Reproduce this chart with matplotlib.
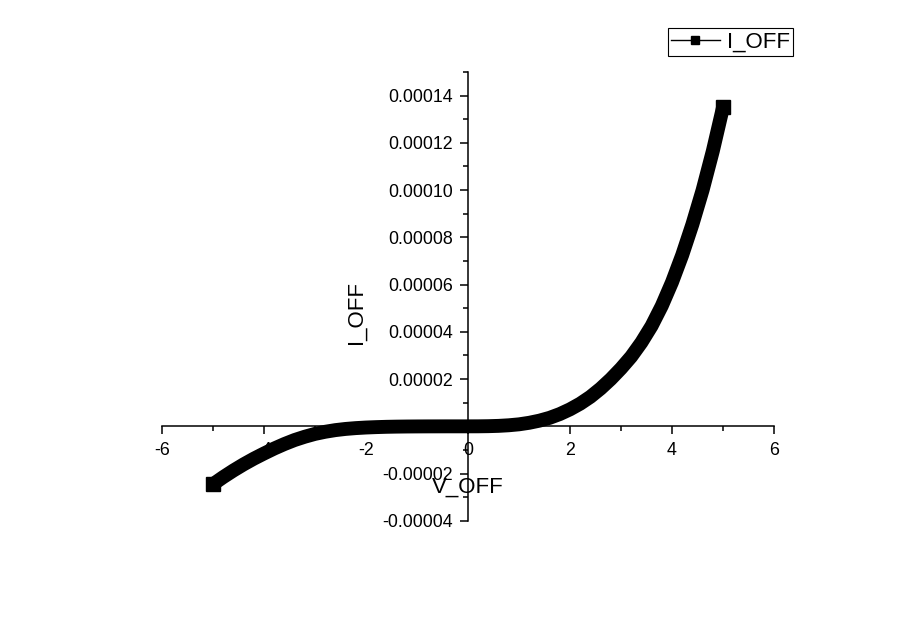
import matplotlib
matplotlib.use("Agg")
import matplotlib.pyplot as plt
from matplotlib.lines import Line2D
from matplotlib.ticker import MultipleLocator, FormatStrFormatter

plt.rcParams['font.family'] = ['Liberation Sans', 'DejaVu Sans']
plt.rcParams['axes.unicode_minus'] = False

# sweep voltage (V) and off current (in units of 1e-6)
v_off = [-5.0, -4.8, -4.6, -4.4, -4.2, -4.0, -3.8, -3.6, -3.4, -3.2,
         -3.0, -2.8, -2.6, -2.4, -2.2, -2.0, -1.8, -1.6, -1.4, -1.2,
         -1.0, -0.8, -0.6, -0.4, -0.2, 0.0, 0.2, 0.4, 0.6, 0.8,
         1.0, 1.2, 1.4, 1.6, 1.8, 2.0, 2.2, 2.4, 2.6, 2.8,
         3.0, 3.2, 3.4, 3.6, 3.8, 4.0, 4.2, 4.4, 4.6, 4.8, 5.0]
i_off_u = [-24.5, -21.5, -18.7, -16.1, -13.7, -11.5, -9.4, -7.5, -5.8, -4.4,
           -3.2, -2.3, -1.6, -1.1, -0.75, -0.5, -0.33, -0.2, -0.12, -0.07,
           -0.04, -0.02, -0.01, 0.0, 0.0, 0.0, 0.01, 0.07, 0.2, 0.45,
           0.85, 1.5, 2.4, 3.6, 5.2, 7.2, 9.6, 12.5, 16.0, 20.0,
           24.5, 29.5, 35.5, 42.5, 51.0, 61.0, 72.5, 85.5, 100.0, 116.5, 135.0]
i_off = [u * 1e-6 for u in i_off_u]

fig = plt.figure(figsize=(9, 6.26), dpi=100)
ax = fig.add_axes([0.18, 0.168, 0.68, 0.717])

# thick smooth trace, square markers only at the two ends
ax.plot(v_off, i_off, color='black', lw=10, marker='s', ms=10,
        markevery=[0, len(v_off) - 1],
        solid_capstyle='butt', solid_joinstyle='round', zorder=3)

ax.set_xlim(-6, 6)
ax.set_ylim(-0.00004, 0.00015)

# origin style: axes crossing at zero
ax.spines['left'].set_position(('data', 0))
ax.spines['bottom'].set_position(('data', 0))
ax.spines['top'].set_visible(False)
ax.spines['right'].set_visible(False)
for s in ('left', 'bottom'):
    ax.spines[s].set_linewidth(1.1)

ax.xaxis.set_major_locator(MultipleLocator(2))
ax.xaxis.set_minor_locator(MultipleLocator(1))
ax.yaxis.set_major_locator(MultipleLocator(0.00002))
ax.yaxis.set_minor_locator(MultipleLocator(0.00001))
ax.yaxis.set_major_formatter(FormatStrFormatter('%.5f'))
ax.xaxis.set_major_formatter(FormatStrFormatter('%d'))

ax.tick_params(which='major', direction='out', length=6, width=1.1,
               labelsize=12.8, pad=5)
ax.tick_params(which='minor', direction='out', length=3.5, width=1.1)

ax.set_xlabel('V_OFF', fontsize=16)
ax.set_ylabel('I_OFF', fontsize=16)
ax.xaxis.set_label_coords(0.5, 0.076)
ax.xaxis.label.set_va('center')
ax.yaxis.set_label_coords(0.317, 0.465)
ax.yaxis.label.set_va('center')

handle = Line2D([], [], color='black', lw=1, marker='s', ms=6)
leg = fig.legend([handle], ['I_OFF'], loc='upper right',
                 bbox_to_anchor=(0.881, 0.955), fontsize=16,
                 fancybox=False, framealpha=1, edgecolor='black',
                 handlelength=2.2, handletextpad=0.3, borderpad=0.15,
                 borderaxespad=0)
leg.get_frame().set_linewidth(0.8)

fig.savefig('out.png', dpi=100)
